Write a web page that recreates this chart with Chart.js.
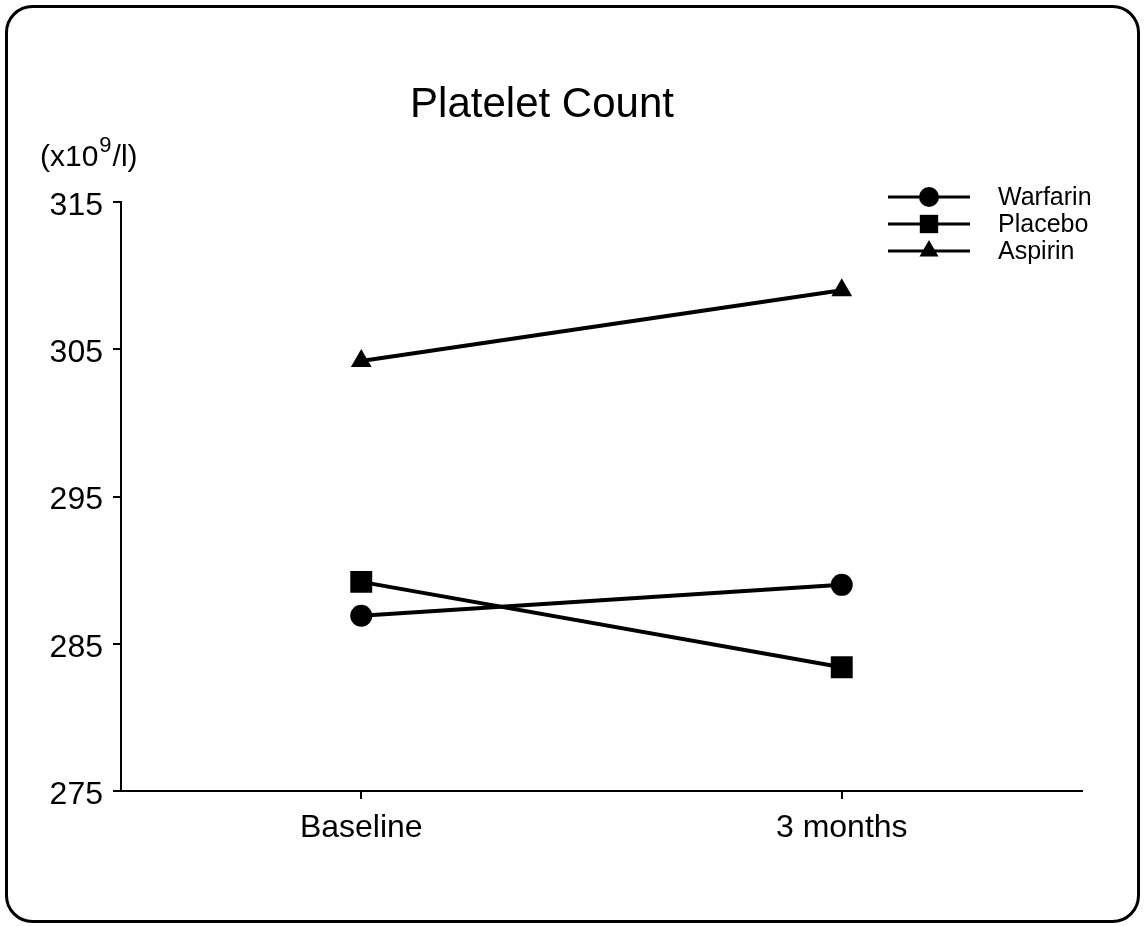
<!DOCTYPE html>
<html>
<head>
<meta charset="utf-8">
<title>Platelet Count</title>
<script src="https://cdn.jsdelivr.net/npm/chart.js@4/dist/chart.umd.min.js"></script>
<style>
  html, body { margin: 0; padding: 0; background: #fff; }
  #wrap { width: 1145px; height: 926px; position: relative; }
</style>
</head>
<body>
<div id="wrap"><canvas id="chart"></canvas></div>
<script>
// Time points and mean platelet counts (x10^9/l) per treatment arm
const categories = ['Baseline', '3 months'];
const warfarin = [286.9, 289.0];
const placebo = [289.2, 283.4];
const aspirin = [304.2, 309.0];
const yTickValues = [275, 285, 295, 305, 315];

const FONT = '"Liberation Sans", Arial, Helvetica, sans-serif';

const seriesStyles = [
  { label: 'Warfarin', data: warfarin, pointStyle: 'circle', pointRadius: 11 },
  { label: 'Placebo', data: placebo, pointStyle: 'rect', pointRadius: 15.5 },
  { label: 'Aspirin', data: aspirin, pointStyle: 'triangle', pointRadius: 12 }
];

// Rounded frame, title, unit label and line+marker legend
const decorations = {
  id: 'decorations',
  beforeDraw(chart) {
    const ctx = chart.ctx;
    ctx.save();
    ctx.fillStyle = '#fff';
    ctx.fillRect(0, 0, chart.width, chart.height);
    ctx.strokeStyle = '#000';
    ctx.lineWidth = 3;
    ctx.beginPath();
    ctx.roundRect(6.5, 6.5, 1132, 915, 26);
    ctx.stroke();
    ctx.restore();
  },
  afterDraw(chart) {
    const ctx = chart.ctx;
    ctx.save();
    ctx.fillStyle = '#000';
    ctx.textBaseline = 'alphabetic';

    // title
    ctx.font = '42px ' + FONT;
    ctx.textAlign = 'center';
    ctx.fillText('Platelet Count', 542, 117);

    // unit label with superscript exponent
    ctx.textAlign = 'left';
    ctx.font = '30px ' + FONT;
    let x = 40;
    ctx.fillText('(x10', x, 166);
    x += ctx.measureText('(x10').width + 1;
    ctx.font = '22px ' + FONT;
    ctx.fillText('9', x, 152);
    x += ctx.measureText('9').width + 1;
    ctx.font = '30px ' + FONT;
    ctx.fillText('/l)', x, 166);

    // legend
    const rowY = [197, 224, 251];
    seriesStyles.forEach((s, i) => {
      const y = rowY[i];
      ctx.strokeStyle = '#000';
      ctx.lineWidth = 3;
      ctx.beginPath();
      ctx.moveTo(888, y);
      ctx.lineTo(970, y);
      ctx.stroke();
      ctx.fillStyle = '#000';
      Chart.helpers.drawPoint(ctx, {
        pointStyle: s.pointStyle,
        radius: s.pointStyle === 'rect' ? 13 : (s.pointStyle === 'circle' ? 10 : 11),
        rotation: 0,
        borderWidth: 0
      }, 929, y);
      ctx.font = '25px ' + FONT;
      ctx.textBaseline = 'middle';
      ctx.textAlign = 'left';
      ctx.fillText(s.label, 998, y + 1);
    });
    ctx.restore();
  }
};

new Chart(document.getElementById('chart'), {
  type: 'line',
  data: {
    labels: categories,
    datasets: seriesStyles.map(s => ({
      label: s.label,
      data: s.data,
      borderColor: '#000',
      backgroundColor: '#000',
      borderWidth: 4,
      tension: 0,
      pointStyle: s.pointStyle,
      pointRadius: s.pointRadius,
      pointBackgroundColor: '#000',
      pointBorderColor: '#000',
      pointBorderWidth: 0,
      fill: false
    }))
  },
  options: {
    responsive: true,
    maintainAspectRatio: false,
    animation: false,
    events: [],
    layout: { padding: { top: 202, left: 0, right: 63, bottom: 0 } },
    plugins: {
      legend: { display: false },
      title: { display: false },
      tooltip: { enabled: false }
    },
    scales: {
      x: {
        type: 'category',
        offset: true,
        grid: {
          drawOnChartArea: false,
          drawTicks: true,
          tickLength: 8,
          tickColor: '#000',
          lineWidth: 2,
          offset: false
        },
        border: { display: true, color: '#000', width: 2 },
        ticks: {
          color: '#000',
          font: { family: FONT, size: 32 },
          padding: 10,
          maxRotation: 0
        },
        afterFit(scale) {
          scale.height = 135;
          scale.paddingLeft = 0;
          scale.paddingRight = 0;
        }
      },
      y: {
        min: 275,
        max: 315,
        afterBuildTicks(scale) {
          scale.ticks = yTickValues.map(v => ({ value: v }));
        },
        grid: {
          drawOnChartArea: false,
          drawTicks: true,
          tickLength: 8,
          tickColor: '#000',
          lineWidth: 2
        },
        border: { display: true, color: '#000', width: 2 },
        ticks: {
          color: '#000',
          font: { family: FONT, size: 32 },
          padding: 10,
          labelOffset: 4
        },
        afterFit(scale) {
          scale.width = 121;
          scale.paddingTop = 0;
          scale.paddingBottom = 0;
        }
      }
    }
  },
  plugins: [decorations]
});
</script>
</body>
</html>
